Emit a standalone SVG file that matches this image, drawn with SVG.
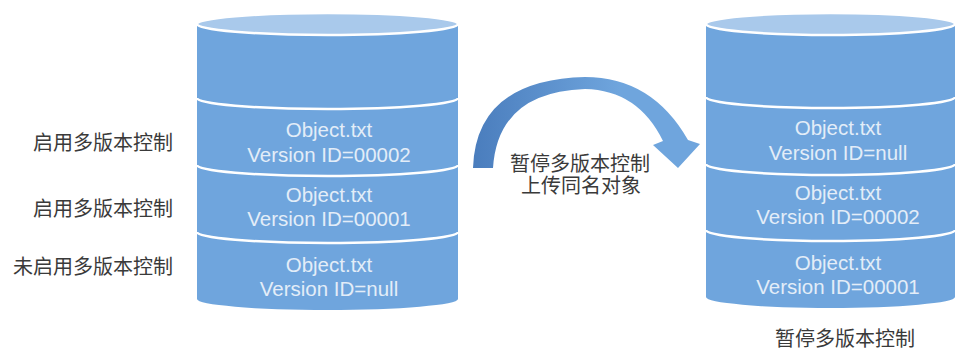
<svg xmlns="http://www.w3.org/2000/svg" width="958" height="350" viewBox="0 0 958 350">
  <defs>
    <linearGradient id="arrowGrad" gradientUnits="userSpaceOnUse" x1="473" y1="0" x2="620" y2="0">
      <stop offset="0" stop-color="#4a7dbd"/>
      <stop offset="1" stop-color="#6fa5dd"/>
    </linearGradient>
  </defs>
  <style>
    .body { fill: #6fa5dd; }
    .top { fill: #a9c9eb; stroke: #ffffff; stroke-width: 2.5; }
    .sep { fill: none; stroke: #ffffff; stroke-width: 2.5; }
    .obj { font-family: "Liberation Sans", Arial, sans-serif; font-size: 20.5px; fill: #e3edf8; text-anchor: middle; }
    .lbl { font-family: "Liberation Sans", "Noto Sans CJK SC", sans-serif; font-size: 20px; fill: #3a3a3a; }
  </style>
  <rect width="958" height="350" fill="#ffffff"/>

  <g id="bucket-left">
    <path class="body" d="M197,24 L197,299 A130.5,11 0 0 0 458,299 L458,24 Z"/>
    <ellipse class="top" cx="327.5" cy="24" rx="130.5" ry="11"/>
    <path class="sep" d="M197,98 A130.5,11 0 0 0 458,98"/>
    <path class="sep" d="M197,165 A130.5,11 0 0 0 458,165"/>
    <path class="sep" d="M197,232 A130.5,11 0 0 0 458,232"/>
    <text class="obj" x="329" y="137">Object.txt</text>
    <text class="obj" x="329" y="162">Version ID=00002</text>
    <text class="obj" x="329" y="202">Object.txt</text>
    <text class="obj" x="329" y="226">Version ID=00001</text>
    <text class="obj" x="329" y="272">Object.txt</text>
    <text class="obj" x="329" y="296">Version ID=null</text>
  </g>

  <g id="bucket-right">
    <path class="body" d="M706,24 L706,297 A124.5,11 0 0 0 955,297 L955,24 Z"/>
    <ellipse class="top" cx="830.5" cy="24" rx="124.5" ry="11"/>
    <path class="sep" d="M706,97 A124.5,11 0 0 0 955,97"/>
    <path class="sep" d="M706,164 A124.5,11 0 0 0 955,164"/>
    <path class="sep" d="M706,230 A124.5,11 0 0 0 955,230"/>
    <text class="obj" x="838" y="135">Object.txt</text>
    <text class="obj" x="838" y="160">Version ID=null</text>
    <text class="obj" x="838" y="200">Object.txt</text>
    <text class="obj" x="838" y="224">Version ID=00002</text>
    <text class="obj" x="838" y="270">Object.txt</text>
    <text class="obj" x="838" y="294">Version ID=00001</text>
  </g>

  <g id="labels-left">
    <text class="lbl" x="173" y="150" text-anchor="end">启用多版本控制</text>
    <text class="lbl" x="173" y="216" text-anchor="end">启用多版本控制</text>
    <text class="lbl" x="173" y="274" text-anchor="end">未启用多版本控制</text>
  </g>

  <g id="label-right">
    <text class="lbl" x="845" y="346" text-anchor="middle">暂停多版本控制</text>
  </g>

  <g id="connectors">
    <path fill="url(#arrowGrad)" d="M473,168 Q476,80 585,77 Q652,77 688,140 L700,144 L678,168 L653,145 L663,141 Q638,90 585,89 Q498,92 493,168 Z"/>
    <text class="lbl" x="580" y="171" text-anchor="middle">暂停多版本控制</text>
    <text class="lbl" x="581" y="193" text-anchor="middle">上传同名对象</text>
  </g>
</svg>
